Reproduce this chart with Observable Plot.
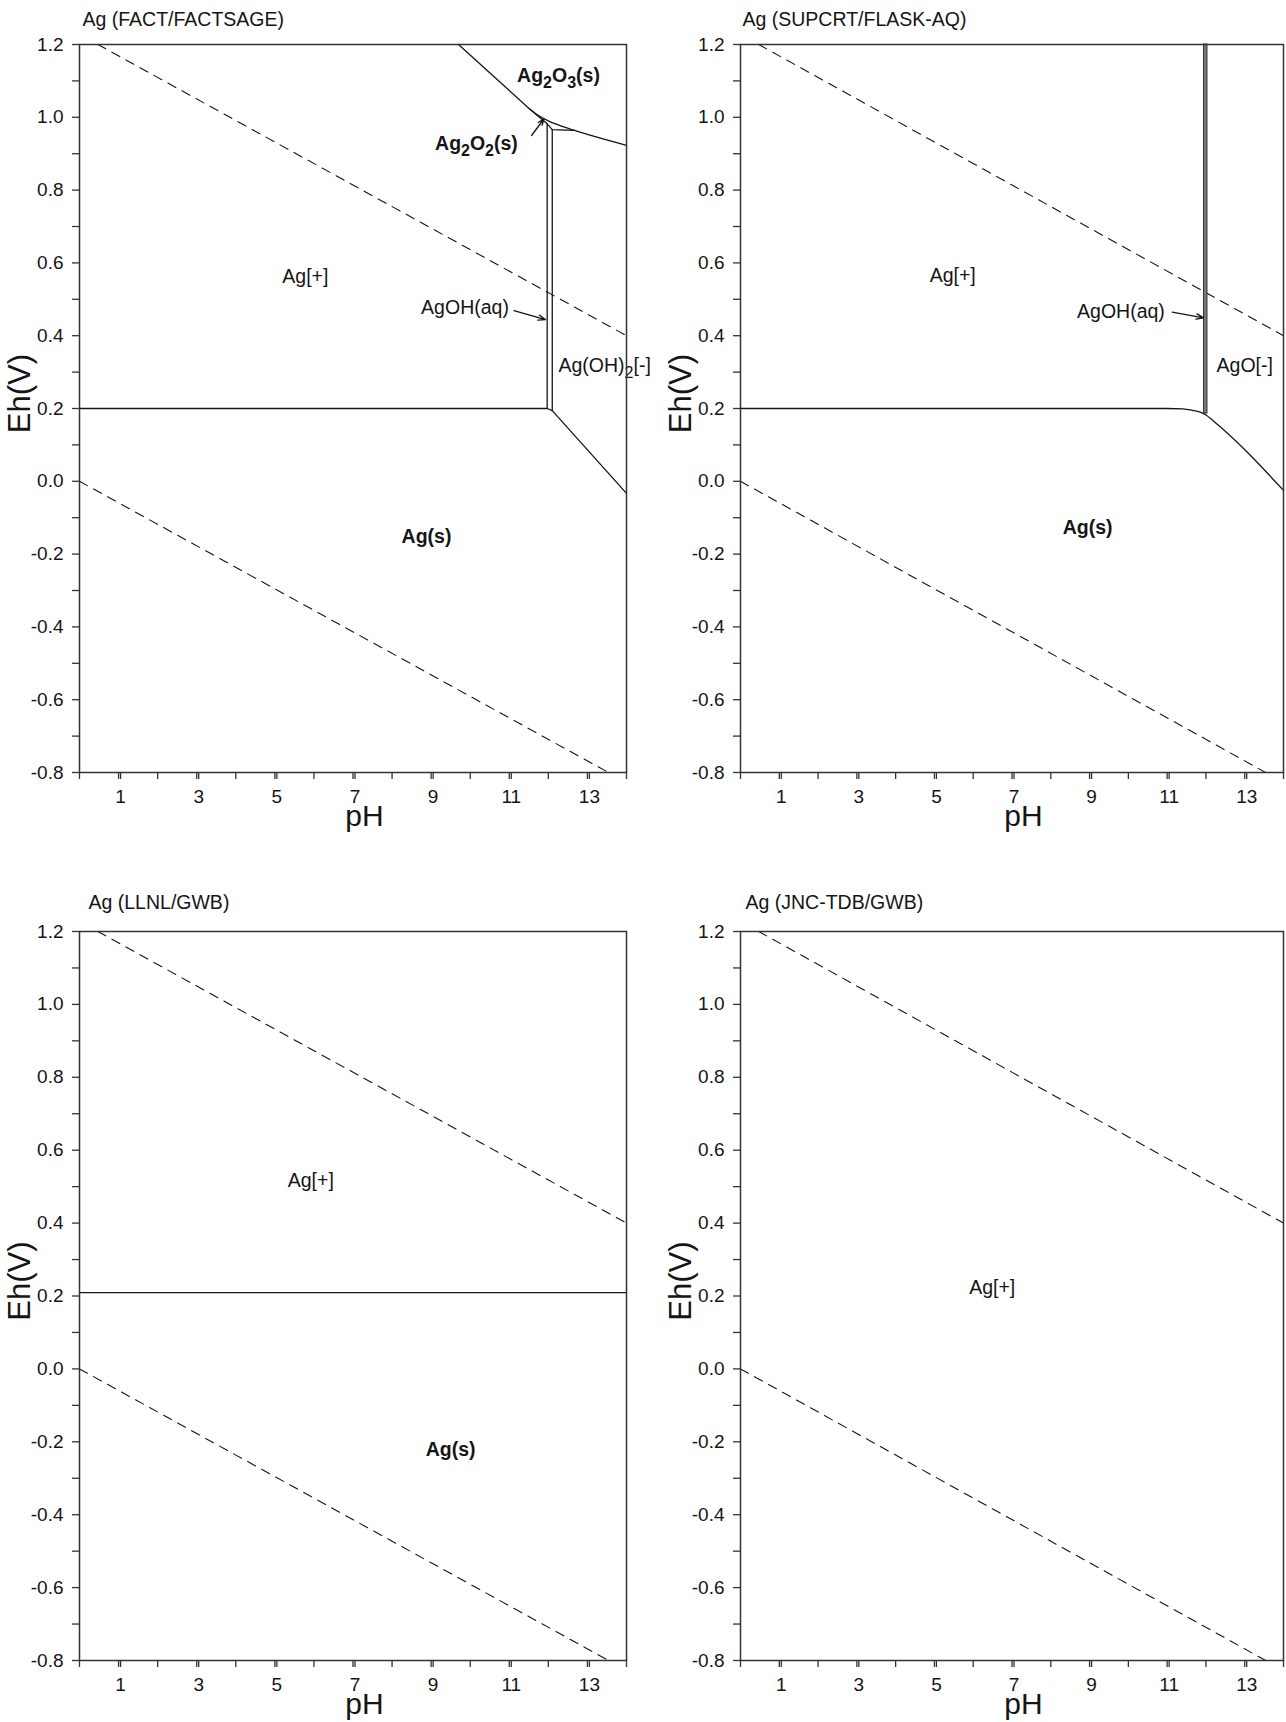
<!DOCTYPE html>
<html>
<head>
<meta charset="utf-8">
<script src="https://cdn.jsdelivr.net/npm/d3@7"></script>
<script src="https://cdn.jsdelivr.net/npm/@observablehq/plot@0.6"></script>
<style>
  body { margin: 0; background: #fff; }
  #fig { position: relative; width: 1286px; height: 1722px; background: #fff; overflow: hidden; }
  .panel { position: absolute; }
</style>
</head>
<body>
<div id="fig"></div>
<script>
// ---------------- shared axis values ----------------
const yTickValues = [-0.8, -0.6, -0.4, -0.2, 0.0, 0.2, 0.4, 0.6, 0.8, 1.0, 1.2];
const yMinorValues = [-0.7, -0.5, -0.3, -0.1, 0.1, 0.3, 0.5, 0.7, 0.9, 1.1];
const xTickValues = [0, 1, 2, 3, 4, 5, 6, 7, 8, 9, 10, 11, 12, 13, 14];
const xLabelValues = [1, 3, 5, 7, 9, 11, 13];

// water stability lines (dashed)
const o2LinePH = [0.47, 14];
const o2LineEh = [1.2, 0.40];
const h2LinePH = [0, 13.54];
const h2LineEh = [0, -0.8];

// ---------------- Panel 1: FACT/FACTSAGE ----------------
const factTitle = "Ag (FACT/FACTSAGE)";
const factAgLinePH = [0, 11.97, 12.1, 14];
const factAgLineEh = [0.2, 0.2, 0.194, -0.033];
const factAgOHLeftPH = [11.97, 11.97];
const factAgOHLeftEh = [0.2, 0.982];
const factAgOHRightPH = [12.1, 12.1];
const factAgOHRightEh = [0.194, 0.966];
const factUpperPH = [9.7, 11.52, 11.97, 12.1, 12.67];
const factUpperEh = [1.2, 1.023, 0.982, 0.966, 0.964];
const factAg2O3PH = [11.52, 11.75, 12.0, 12.3, 12.67, 14];
const factAg2O3Eh = [1.023, 1.005, 0.99, 0.977, 0.964, 0.923];
const factLabels = ["Ag[+]", "Ag(s)", "Ag_2O_3(s)", "Ag_2O_2(s)", "AgOH(aq)", "Ag(OH)_2[-]"];
const factLabelPH = [5.78, 8.88, 12.26, 10.16, 10.99, 12.26];
const factLabelEh = [0.563, -0.152, 1.115, 0.928, 0.477, 0.318];
const factLabelBold = [false, true, true, true, false, false];
const factLabelAnchor = ["middle", "middle", "middle", "middle", "end", "start"];
const factArrowFromPH = [11.57, 11.12];
const factArrowFromEh = [0.95, 0.469];
const factArrowToPH = [11.89, 11.93];
const factArrowToEh = [0.996, 0.444];

// ---------------- Panel 2: SUPCRT/FLASK-AQ ----------------
const supTitle = "Ag (SUPCRT/FLASK-AQ)";
const supAgLinePH = [0, 11.0, 11.4, 11.65, 11.85, 12.0, 12.2, 14];
const supAgLineEh = [0.2, 0.2, 0.199, 0.195, 0.19, 0.182, 0.165, -0.025];
const supStripPH = [11.95, 12.04];
const supStripEh = [0.186, 1.2];
const supLabels = ["Ag[+]", "Ag(s)", "AgOH(aq)", "AgO[-]"];
const supLabelPH = [5.47, 8.95, 10.94, 13.0];
const supLabelEh = [0.564, -0.127, 0.467, 0.318];
const supLabelBold = [false, true, false, false];
const supLabelAnchor = ["middle", "middle", "end", "middle"];
const supArrowFromPH = [11.13];
const supArrowFromEh = [0.465];
const supArrowToPH = [11.94];
const supArrowToEh = [0.449];

// ---------------- Panel 3: LLNL/GWB ----------------
const llnlTitle = "Ag (LLNL/GWB)";
const llnlAgLinePH = [0, 14];
const llnlAgLineEh = [0.209, 0.209];
const llnlLabels = ["Ag[+]", "Ag(s)"];
const llnlLabelPH = [5.92, 9.5];
const llnlLabelEh = [0.516, -0.222];
const llnlLabelBold = [false, true];

// ---------------- Panel 4: JNC-TDB/GWB ----------------
const jncTitle = "Ag (JNC-TDB/GWB)";
const jncLabels = ["Ag[+]"];
const jncLabelPH = [6.49];
const jncLabelEh = [0.222];
const jncLabelBold = [false];

// ---------------- helpers ----------------
const zip = (xs, ys) => xs.map((x, i) => ({pH: x, Eh: ys[i]}));
const INK = "#151515";
const FONT = "'Liberation Sans', Arial, Helvetica, sans-serif";

function labelMarks(texts, phs, ehs, bolds, anchors) {
  return texts.map((t, i) => Plot.text([{pH: phs[i], Eh: ehs[i], label: t}], {
    x: "pH", y: "Eh", text: "label",
    fontSize: 19.5,
    fontWeight: bolds[i] ? "bold" : "normal",
    textAnchor: anchors ? anchors[i] : "middle",
    lineAnchor: "middle",
    fill: INK
  }));
}

function arrowMark(x1s, y1s, x2s, y2s) {
  const data = x1s.map((x, i) => ({x1: x, y1: y1s[i], x2: x2s[i], y2: y2s[i]}));
  return Plot.arrow(data, {x1: "x1", y1: "y1", x2: "x2", y2: "y2",
    stroke: INK, strokeWidth: 1.3, headLength: 9, headAngle: 40});
}

function subscriptify(svg) {
  const ns = "http://www.w3.org/2000/svg";
  svg.querySelectorAll("text").forEach(t => {
    const s = t.textContent;
    if (!/_\d/.test(s) || t.querySelectorAll("tspan").length > 1) return;
    const parts = s.split(/_(\d)/);
    while (t.firstChild) t.removeChild(t.firstChild);
    let shifted = false;
    parts.forEach((p, i) => {
      if (p === "") return;
      const ts = document.createElementNS(ns, "tspan");
      ts.textContent = p;
      if (i % 2 === 1) {
        ts.setAttribute("dy", "6");
        ts.setAttribute("font-size", "16");
        shifted = true;
      } else if (shifted) {
        ts.setAttribute("dy", "-6");
        shifted = false;
      }
      t.appendChild(ts);
    });
  });
}

function makePanel(cfg) {
  const marks = [
    Plot.line(zip(o2LinePH, o2LineEh), {x: "pH", y: "Eh", stroke: INK, strokeWidth: 1.1, strokeDasharray: "9,7"}),
    Plot.line(zip(h2LinePH, h2LineEh), {x: "pH", y: "Eh", stroke: INK, strokeWidth: 1.1, strokeDasharray: "9,7"}),
    ...(cfg.marks || []),
    Plot.frame({stroke: "#333", strokeWidth: 1.5}),
    Plot.axisX({ticks: xTickValues, tickSize: 7, tickFormat: () => "", label: null, stroke: "#333", strokeWidth: 1.3}),
    Plot.axisX({ticks: xLabelValues, tickSize: 7, tickPadding: 10, tickFormat: d => String(d), label: null,
      fontSize: 19, dx: 2, stroke: "#333", strokeWidth: 1.3, fill: INK}),
    Plot.axisY({ticks: yMinorValues, tickSize: 7, tickFormat: () => "", label: null, stroke: "#333", strokeWidth: 1.3}),
    Plot.axisY({ticks: yTickValues, tickSize: 7, tickPadding: 9, tickFormat: d => d.toFixed(1), label: null,
      fontSize: 19, stroke: "#333", strokeWidth: 1.3, fill: INK}),
    Plot.text([cfg.title], {frameAnchor: "top-left", dx: cfg.titleDx, dy: cfg.titleDy,
      textAnchor: "start", lineAnchor: "middle", fontSize: 19.5, fill: INK}),
    Plot.text(["Eh(V)"], {frameAnchor: "left", dx: -59, dy: -15, rotate: -90,
      textAnchor: "middle", lineAnchor: "middle", fontSize: 31, fill: INK}),
    Plot.text(["pH"], {frameAnchor: "bottom", dx: 11.5, dy: 44,
      textAnchor: "middle", lineAnchor: "middle", fontSize: 30, fill: INK})
  ];
  const svg = Plot.plot({
    width: 643,
    height: 861,
    marginLeft: cfg.marginLeft,
    marginRight: cfg.marginRight,
    marginTop: cfg.marginTop,
    marginBottom: cfg.marginBottom,
    x: {domain: [0, 14]},
    y: {domain: [-0.8, 1.2]},
    style: {fontFamily: FONT, fontSize: "19px", color: INK, background: "transparent", overflow: "visible"},
    marks
  });
  svg.style.overflow = "visible";
  subscriptify(svg);
  const holder = document.createElement("div");
  holder.className = "panel";
  holder.style.left = cfg.left + "px";
  holder.style.top = cfg.top + "px";
  holder.style.zIndex = cfg.z || 1;
  holder.appendChild(svg);
  document.getElementById("fig").appendChild(holder);
}

// Panel 1
makePanel({
  title: factTitle, left: 0, top: 0, z: 2,
  marginLeft: 79, marginRight: 17, marginTop: 44, marginBottom: 89,
  titleDx: 3, titleDy: -25,
  marks: [
    Plot.line(zip(factAgLinePH, factAgLineEh), {x: "pH", y: "Eh", stroke: INK, strokeWidth: 1.3}),
    Plot.line(zip(factAgOHLeftPH, factAgOHLeftEh), {x: "pH", y: "Eh", stroke: INK, strokeWidth: 1.3}),
    Plot.line(zip(factAgOHRightPH, factAgOHRightEh), {x: "pH", y: "Eh", stroke: INK, strokeWidth: 1.3}),
    Plot.line(zip(factUpperPH, factUpperEh), {x: "pH", y: "Eh", stroke: INK, strokeWidth: 1.3}),
    Plot.line(zip(factAg2O3PH, factAg2O3Eh), {x: "pH", y: "Eh", stroke: INK, strokeWidth: 1.3, curve: "monotone-x"}),
    ...labelMarks(factLabels, factLabelPH, factLabelEh, factLabelBold, factLabelAnchor),
    arrowMark(factArrowFromPH, factArrowFromEh, factArrowToPH, factArrowToEh)
  ]
});

// Panel 2
makePanel({
  title: supTitle, left: 643, top: 0,
  marginLeft: 97, marginRight: 3, marginTop: 44, marginBottom: 89,
  titleDx: 2, titleDy: -25,
  marks: [
    Plot.rect([{x1: supStripPH[0], x2: supStripPH[1], y1: supStripEh[0], y2: supStripEh[1]}],
      {x1: "x1", x2: "x2", y1: "y1", y2: "y2", fill: "#777", stroke: "#333", strokeWidth: 1}),
    Plot.line(zip(supAgLinePH, supAgLineEh), {x: "pH", y: "Eh", stroke: INK, strokeWidth: 1.3, curve: "monotone-x"}),
    ...labelMarks(supLabels, supLabelPH, supLabelEh, supLabelBold, supLabelAnchor),
    arrowMark(supArrowFromPH, supArrowFromEh, supArrowToPH, supArrowToEh)
  ]
});

// Panel 3
makePanel({
  title: llnlTitle, left: 0, top: 861,
  marginLeft: 79, marginRight: 17, marginTop: 70, marginBottom: 62,
  titleDx: 9, titleDy: -29,
  marks: [
    Plot.line(zip(llnlAgLinePH, llnlAgLineEh), {x: "pH", y: "Eh", stroke: INK, strokeWidth: 1.3}),
    ...labelMarks(llnlLabels, llnlLabelPH, llnlLabelEh, llnlLabelBold)
  ]
});

// Panel 4
makePanel({
  title: jncTitle, left: 643, top: 861,
  marginLeft: 97, marginRight: 3, marginTop: 70, marginBottom: 62,
  titleDx: 5, titleDy: -29,
  marks: [
    ...labelMarks(jncLabels, jncLabelPH, jncLabelEh, jncLabelBold)
  ]
});
</script>
</body>
</html>
